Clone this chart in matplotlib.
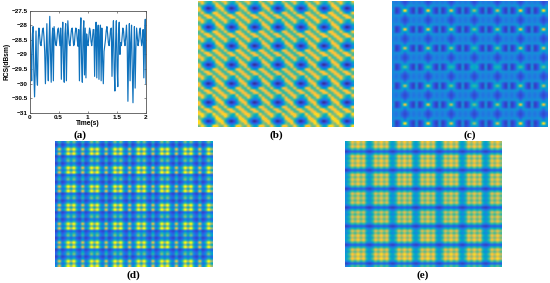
import numpy as np
import matplotlib
matplotlib.use("Agg")
import matplotlib.pyplot as plt
from matplotlib.colors import LinearSegmentedColormap

W, H = 550, 283

# panel (a), trace sampled evenly over 0-2 s
rcs_v = [-28.5, -28.0, -29.2, -29.9, -28.3, -28.05, -29.6, -30.45, -29.5, -28.2, -29.7, -30.05, -28.5, -28.1,
         -28.35, -28.65, -28.7, -28.45, -28.15, -28.1, -28.4,
         -28.9, -30.0, -28.9, -27.95, -29.2, -29.9, -28.6, -27.7, -29.0, -29.95, -28.5, -28.1, -29.9, -28.05,
         -28.35, -28.65, -28.7, -28.45, -28.15, -28.1, -28.4, -28.7,
         -28.1, -29.85, -28.4, -27.9, -29.3, -29.95, -28.3, -27.95, -29.9, -28.5, -27.85,
         -28.3, -28.65, -28.7, -28.4, -28.15, -28.1, -28.4, -28.7, -28.65, -28.3, -28.1, -28.15, -28.5, -28.72,
         -28.15, -29.9, -28.3, -27.75, -29.3, -29.95, -28.4, -27.85, -29.7, -28.1, -29.8, -28.3,
         -28.65, -28.7, -28.4, -28.1, -28.2, -28.55, -28.7, -28.45, -28.15, -28.15,
         -29.75, -28.4, -27.9, -29.8, -28.3, -28.0, -29.85, -28.4, -28.0, -29.9, -28.1, -29.2, -30.0, -28.9,
         -28.7, -28.5, -28.2, -28.05, -28.3, -28.6, -28.7, -28.45, -28.15, -28.1,
         -29.75, -28.5, -27.85, -29.5, -30.25, -28.6, -27.85, -29.4, -30.1, -28.3, -27.9, -29.0,
         -28.6, -28.7, -28.4, -28.1, -28.2, -28.55, -28.7, -28.4, -28.0, -28.6,
         -30.6, -29.0, -27.95, -29.9, -28.6, -28.0, -29.5, -30.65, -29.2, -28.05, -30.15, -28.8, -28.1,
         -28.4, -28.7, -28.55, -28.2, -28.1, -28.45, -28.7, -28.5, -28.15,
         -29.8, -28.5, -27.8, -30.0]
y_ticks = [-27.5, -28, -28.5, -29, -29.5, -30, -30.5, -31]
x_ticks = [0, 0.5, 1, 1.5, 2]

# panel (b), one repeat of the spot over diagonal stripes, plus slow drift
b_motif = [[.84, .84, .58, .48, .46, .84, .58, .58],
           [.58, .84, .55, .34, .40, .60, .84, .58],
           [.58, .50, .30, .20, .24, .40, .84, .84],
           [.84, .42, .16, .03, .10, .28, .58, .84],
           [.84, .58, .28, .16, .20, .36, .58, .58],
           [.58, .84, .55, .34, .42, .84, .84, .58],
           [.58, .58, .84, .84, .58, .58, .84, .84],
           [.84, .58, .58, .84, .84, .58, .58, .84]]
b_col_drift = [1.0, .98, .96, .94, .96, 1.0, 1.0]
b_row_drift = [1.0, .99, .98, .97, .98, 1.0, 1.08]

# panel (c), one repeat, spot is the bright cell at [4][4]
c_motif = [[.26, .22, .26, .16, .10, .16, .26, .22],
           [.28, .24, .28, .20, .12, .20, .28, .24],
           [.30, .27, .30, .32, .20, .32, .30, .27],
           [.26, .10, .16, .33, .36, .33, .16, .10],
           [.30, .08, .14, .40, .92, .40, .14, .08],
           [.26, .10, .16, .33, .36, .33, .16, .10],
           [.30, .27, .30, .32, .20, .32, .30, .27],
           [.28, .24, .28, .20, .12, .20, .28, .24]]
c_col_gain = [1.0, .95, .85, .70, .80, .95, 1.0]
c_row_gain = [1.0, .90, .80, .60, .75, .90, 1.0]

# panels (d), (e), brightness of rows and columns over one repeat
d_cols = [.32, .78, .32, .50, 1.0, .65, 1.0, .48]
d_rows = [.60, .30, .50, 1.0, .65, 1.0, .30, .48]
e_cols = [.40, .58, .90, .76, .95, .76, .90, .52]
e_rows = [.92, .80, .92, .60, .22, .55, .88, .75]
e_row_gain = [1.0, 1.0, .97, .92, .94, 1.0, 1.05]

colors = ["#352a87", "#2f55e0", "#1f80e0", "#06a4ca", "#2eb7a4", "#87bf77", "#d1bb59", "#fec832", "#f9fb0e"]
parula = LinearSegmentedColormap.from_list("parula", colors)


def px_axes(fig, x0, y0, x1, y1):
    return fig.add_axes([x0 / W, 1 - y1 / H, (x1 - x0) / W, (y1 - y0) / H])


def show(fig, box, data):
    ax = px_axes(fig, *box)
    ax.imshow(data, cmap=parula, vmin=0, vmax=1, aspect="auto", interpolation="catrom")
    ax.axis("off")


def caption(fig, x, y, label):
    fig.text(x / W, 1 - y / H, label, family="Liberation Serif", weight="bold", fontsize=8,
             ha="center", va="center", color="black")


fig = plt.figure(figsize=(W / 100, H / 100), dpi=100, facecolor="white")

ax = px_axes(fig, 29.5, 10.5, 146, 113)
ax.plot(np.linspace(0, 2, len(rcs_v)), rcs_v, color="#0f72bd", lw=0.85)
ax.set_xlim(0, 2)
ax.set_ylim(-31, -27.5)
ax.set_xticks(x_ticks)
ax.set_xticklabels([f"{v:g}" for v in x_ticks])
ax.set_yticks(y_ticks)
ax.set_yticklabels([f"{v:g}".replace("-", "\u2212") for v in y_ticks])
ax.tick_params(direction="in", length=1.5, width=0.4, labelsize=4.6, pad=1.2, top=True, right=True, color="#333333")
for t in ax.get_xticklabels() + ax.get_yticklabels():
    t.set_family("Liberation Sans")
    t.set_weight("bold")
for s in ax.spines.values():
    s.set_linewidth(0.6)
    s.set_color("#555555")
ax.set_xlabel("Time(s)", family="Liberation Sans", weight="bold", fontsize=4.8, labelpad=0.5)
ax.set_ylabel("RCS(dBsm)", family="Liberation Sans", weight="bold", fontsize=4.8, labelpad=1)

n = 54
b = np.tile(np.array(b_motif), (7, 7))[:n, :n]
b = b * np.kron(b_row_drift, np.ones(8))[:n, None] * np.kron(b_col_drift, np.ones(8))[None, :n]
show(fig, (198, 1, 354, 127), b)

c = np.tile(np.array(c_motif), (7, 7))[:n, :n]
for i, rg in enumerate(c_row_gain):
    for j, cg in enumerate(c_col_gain):
        c[8 * i + 4, 8 * j + 4] *= rg * cg
show(fig, (392, 1, 548, 127), c)

d_r = np.tile(d_rows, 7)[:n]
d_c = np.tile(d_cols, 7)[:n]
show(fig, (55, 141, 212, 267), np.outer(d_r, d_c))

e_r = np.tile(e_rows, 7)[:n] * np.kron(e_row_gain, np.ones(8))[:n]
e_c = np.tile(e_cols, 7)[:n]
show(fig, (345, 141, 502, 267), np.outer(e_r, e_c))

caption(fig, 80, 135, "(a)")
caption(fig, 276, 135, "(b)")
caption(fig, 470, 135, "(c)")
caption(fig, 133, 275, "(d)")
caption(fig, 423, 275, "(e)")

fig.savefig("out.png", dpi=100)
